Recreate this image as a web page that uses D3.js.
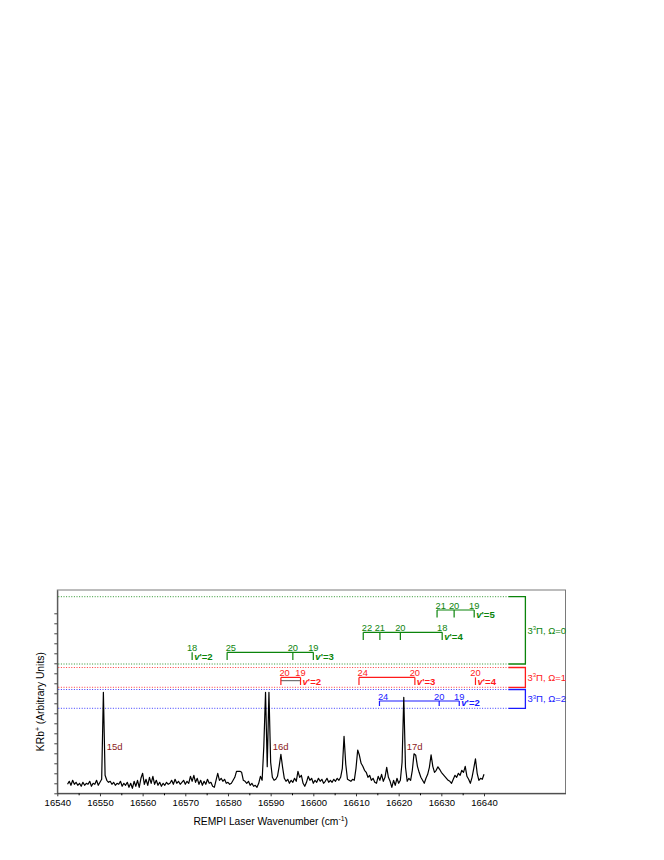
<!DOCTYPE html>
<html><head><meta charset="utf-8">
<script src="https://cdn.jsdelivr.net/npm/d3@7"></script>
<style>body{margin:0;background:#fff} text{font-family:"Liberation Sans",Arial,sans-serif}</style>
</head><body><svg id="c" width="664" height="860"></svg>
<script>
// ---------------- data ----------------
const wavenumbers = [
16542.4,16542.8,16543.2,16543.6,16544.0,16544.4,16544.8,16545.2,16545.6,16546.0,
16546.4,16546.8,16547.2,16547.6,16548.0,16548.4,16548.8,16549.2,16549.6,16550.0,
16550.4,16550.8,16551.2,16551.6,16552.0,16552.4,16552.8,16553.2,16553.6,16554.0,
16554.4,16554.8,16555.2,16555.6,16556.0,16556.4,16556.8,16557.2,16557.6,16558.0,
16558.4,16558.8,16559.2,16559.6,16560.0,16560.4,16560.8,16561.2,16561.6,16562.0,
16562.4,16562.8,16563.2,16563.6,16564.0,16564.4,16564.8,16565.2,16565.6,16566.0,
16566.4,16566.8,16567.2,16567.6,16568.0,16568.4,16568.8,16569.2,16569.6,16570.0,
16570.4,16570.8,16571.2,16571.6,16572.0,16572.4,16572.8,16573.2,16573.6,16574.0,
16574.4,16574.8,16575.2,16575.6,16576.0,16576.4,16576.8,16577.2,16577.6,16578.0,
16578.4,16578.8,16579.2,16579.6,16580.0,16580.4,16580.8,16581.2,16581.6,16582.0,
16582.4,16582.8,16583.2,16583.6,16584.0,16584.4,16584.8,16585.2,16585.6,16586.0,
16586.4,16586.8,16587.2,16587.6,16588.0,16588.4,16588.8,16589.2,16589.6,16590.0,
16590.4,16590.8,16591.2,16591.6,16592.0,16592.4,16592.8,16593.2,16593.6,16594.0,
16594.4,16594.8,16595.2,16595.6,16596.0,16596.4,16596.8,16597.2,16597.6,16598.0,
16598.4,16598.8,16599.2,16599.6,16600.0,16600.4,16600.8,16601.2,16601.6,16602.0,
16602.4,16602.8,16603.2,16603.6,16604.0,16604.4,16604.8,16605.2,16605.6,16606.0,
16606.4,16606.8,16607.2,16607.6,16608.0,16608.4,16608.8,16609.2,16609.6,16610.0,
16610.4,16610.8,16611.2,16611.6,16612.0,16612.4,16612.8,16613.2,16613.6,16614.0,
16614.4,16614.8,16615.2,16615.6,16616.0,16616.4,16616.8,16617.2,16617.6,16618.0,
16618.4,16618.8,16619.2,16619.6,16620.0,16620.4,16620.8,16621.2,16621.6,16622.0,
16622.4,16622.8,16623.2,16623.6,16624.0,16624.4,16624.8,16625.2,16625.6,16626.0,
16626.4,16626.8,16627.2,16627.6,16628.0,16628.4,16628.8,16629.2,16629.6,16630.0,
16630.4,16630.8,16631.2,16631.6,16632.0,16632.4,16632.8,16633.2,16633.6,16634.0,
16634.4,16634.8,16635.2,16635.6,16636.0,16636.4,16636.8,16637.2,16637.6,16638.0,
16638.4,16638.8,16639.2,16639.6,16640.0
];
const intensity = [
0.9,1.2,0.8,1.3,0.9,1.1,0.8,1.0,0.7,1.1,
0.8,1.0,0.9,1.2,0.7,1.0,0.9,1.3,0.8,1.1,
1.4,10.1,1.8,1.3,1.1,1.2,0.9,1.1,0.8,1.0,
0.9,1.2,0.7,1.0,0.8,1.1,0.6,1.0,0.5,1.2,
0.7,1.3,0.6,1.5,2.0,0.9,1.4,0.8,1.6,1.0,
1.7,0.9,1.3,0.8,1.1,0.7,1.0,0.8,1.1,0.9,
1.0,1.3,0.9,1.4,1.0,1.2,0.9,1.1,1.3,0.9,
1.2,1.0,1.7,1.2,1.8,1.1,1.5,0.9,1.3,0.8,
1.2,0.9,1.4,1.0,1.1,0.7,0.6,1.3,2.0,1.3,
1.5,1.2,1.4,1.0,1.1,0.9,1.0,1.3,1.6,2.2,
2.2,2.2,2.1,1.3,1.2,1.0,1.2,0.8,1.0,0.7,
0.8,0.6,1.0,1.7,1.3,4.7,10.1,2.66,10.1,3.1,
1.6,1.3,1.4,1.7,2.7,3.9,2.6,1.5,1.2,1.4,
1.0,1.3,1.1,1.5,1.2,2.2,1.6,1.8,1.0,0.7,
1.1,1.7,1.3,1.5,1.0,1.3,1.1,1.5,1.2,1.4,
1.0,1.2,1.5,1.1,1.3,1.1,1.4,1.2,1.5,1.3,
1.6,2.5,5.7,2.9,1.4,1.3,1.2,1.4,1.3,2.5,
4.33,3.8,3.0,2.7,2.3,2.1,1.6,1.8,1.3,1.5,
1.1,1.0,1.7,1.3,1.9,1.2,1.6,2.6,1.6,1.2,
0.6,1.3,0.8,1.5,1.0,1.3,3.1,9.6,2.6,1.2,
1.5,1.3,2.3,3.95,3.8,2.7,2.1,1.6,1.3,1.0,
1.5,1.9,2.6,3.85,2.7,2.1,2.3,2.65,2.4,2.1,
1.9,1.7,1.5,1.3,1.2,1.0,1.4,1.8,1.6,2.0,
1.8,2.3,2.1,2.7,1.7,1.4,1.0,1.6,2.5,3.45,
2.0,1.3,1.5,1.4,1.9
];
const xTickLabels = [16540,16550,16560,16570,16580,16590,16600,16610,16620,16630,16640];
const xMinorTicks = [16545,16555,16565,16575,16585,16595,16605,16615,16625,16635];
const yTicks = [0,1,2,3,4,5,6,7,8,9,10,11,12,13,14,15,16,17,18];

const peakLabels = ["15d","16d","17d"];
const peakLabelWn = [16551.6,16590.5,16621.9];
const peakLabelLevel = [4.33,4.33,4.33];

const stateOmega = ["0","1","2"];
const stateColors = ["#0b840b","#ff1a1a","#1a1aff"];
const stateTop = [19.66,12.58,10.38];
const stateBottom = [12.93,10.6,8.5];

const progVib   = ["2","3","4","5","2","3","4","2"];
const progState = [0,0,0,0,1,1,1,2];
const progLevel = [14.1,14.1,16.1,18.33,11.59,11.59,11.59,9.23];
const progJ  = [["18"],["25","20","19"],["22","21","20","18"],["21","20","19"],["20","19"],["24","20"],["20"],["24","20","19"]];
const progWn = [[16571.6],[16579.8,16595.2,16600.0],[16611.7,16615.6,16620.4,16630.2],[16629.0,16633.0,16637.7],
                [16592.4,16597.0],[16610.7,16623.8],[16638.0],[16615.5,16629.5,16634.2]];

// ---------------- drawing ----------------
const svg = d3.select("#c");
const L = 57.3, R = 565.5, T = 590, B = 793.3;
const x = d3.scaleLinear().domain([16540, 16659.1]).range([L, R]);
const y = d3.scaleLinear().domain([0, 20.33]).range([B, T]);

// frame
svg.append("rect").attr("x", L).attr("y", T).attr("width", R - L).attr("height", B - T)
  .attr("fill", "none").attr("stroke", "#7a7a7a").attr("stroke-width", 1);

// axes
const gx = svg.append("g").attr("transform", `translate(0,${B})`)
  .call(d3.axisBottom(x).tickValues(xTickLabels).tickSize(3).tickSizeOuter(0).tickPadding(3).tickFormat(d3.format("d")));
svg.append("g").attr("transform", `translate(0,${B})`)
  .call(d3.axisBottom(x).tickValues(xMinorTicks).tickSize(2).tickSizeOuter(0).tickFormat(""))
  .select(".domain").remove();
gx.selectAll("text").attr("font-size", "9.5px").attr("fill", "#000")
  .style("font-family", "'Liberation Sans',Arial,sans-serif");
gx.select(".domain").attr("stroke", "#333");
gx.selectAll(".tick line").attr("stroke", "#333");

const gy = svg.append("g").attr("transform", `translate(${L},0)`)
  .call(d3.axisLeft(y).tickValues(yTicks).tickSize(3).tickSizeOuter(0).tickFormat(""));
gy.select(".domain").attr("stroke", "#444");
gy.selectAll(".tick line").attr("stroke", "#444");

// axis titles
const xt = svg.append("text").attr("x", x((16540 + 16640) / 2)).attr("y", 825)
  .attr("text-anchor", "middle").attr("font-size", "10.3px").attr("fill", "#000");
xt.append("tspan").text("REMPI Laser Wavenumber (cm");
xt.append("tspan").text("-1").attr("font-size", "6.8px").attr("dy", "-4");
xt.append("tspan").text(")").attr("dy", "4");

const yt = svg.append("text").attr("transform", `translate(44,${(T + B) / 2 + 10}) rotate(-90)`)
  .attr("text-anchor", "middle").attr("font-size", "10.3px").attr("fill", "#000");
yt.append("tspan").text("KRb");
yt.append("tspan").text("+").attr("font-size", "6.8px").attr("dy", "-4");
yt.append("tspan").text(" (Arbitrary Units)").attr("dy", "4");

// state bands: dotted lines + brackets + labels
const dotEnd = 16645.7, brX = 16649.7;
stateOmega.forEach((om, i) => {
  const c = stateColors[i];
  [stateTop[i], stateBottom[i]].forEach(v => {
    svg.append("line").attr("x1", x(16540) + 1).attr("x2", x(dotEnd)).attr("y1", y(v)).attr("y2", y(v))
      .attr("stroke", c).attr("stroke-width", 1).attr("stroke-dasharray", "1,1.6").attr("opacity", 0.85);
  });
  svg.append("path")
    .attr("d", `M${x(dotEnd)},${y(stateTop[i])}H${x(brX)}V${y(stateBottom[i])}H${x(dotEnd)}`)
    .attr("fill", "none").attr("stroke", c).attr("stroke-width", 1.3);
  const t = svg.append("text").attr("x", x(brX) + 2).attr("y", (y(stateTop[i]) + y(stateBottom[i])) / 2)
    .attr("dy", "0.35em").attr("font-size", "9.5px").attr("fill", c);
  t.append("tspan").text("3");
  t.append("tspan").text("3").attr("font-size", "6px").attr("dy", "-3.5");
  t.append("tspan").text("\u03A0, \u03A9=" + om).attr("dy", "3.5");
});

// progressions
progVib.forEach((vib, p) => {
  const c = stateColors[progState[p]];
  const ly = y(progLevel[p]);
  const tl = progState[p] === 2 ? 5 : 7.6;
  const wns = progWn[p];
  const g = svg.append("g");
  if (wns.length > 1) {
    g.append("line").attr("x1", x(wns[0])).attr("x2", x(wns[wns.length - 1])).attr("y1", ly).attr("y2", ly)
      .attr("stroke", c).attr("stroke-width", 1.2);
  }
  if (p === 4) {
    g.append("line").attr("x1", x(wns[0])).attr("x2", x(wns[1])).attr("y1", ly + 3.3).attr("y2", ly + 3.3)
      .attr("stroke", "#555").attr("stroke-width", 1);
  }
  wns.forEach((w, j) => {
    g.append("line").attr("x1", x(w)).attr("x2", x(w)).attr("y1", ly).attr("y2", ly + tl)
      .attr("stroke", c).attr("stroke-width", 1.2);
    const first = (j === 0 && wns.length > 1);
    g.append("text").attr("x", first ? x(w) - 1.5 : x(w)).attr("y", ly - 1.5)
      .attr("text-anchor", first ? "start" : "middle").attr("font-size", "9.3px").attr("fill", c)
      .text(progJ[p][j]);
  });
  const lt = g.append("text").attr("x", x(wns[wns.length - 1]) + 2).attr("y", ly + tl)
    .attr("font-size", "9.6px").attr("font-weight", "bold").attr("fill", c);
  lt.append("tspan").text("v").attr("font-style", "italic");
  lt.append("tspan").text("'=" + vib);
});

// spectrum
const spec = wavenumbers.map((w, i) => [w, intensity[i]]);
svg.append("path").datum(spec)
  .attr("d", d3.line().x(d => x(d[0])).y(d => y(d[1])))
  .attr("fill", "none").attr("stroke", "#000").attr("stroke-width", 1.2).attr("stroke-linejoin", "round");

// peak labels
peakLabels.forEach((s, i) => {
  svg.append("text").attr("x", x(peakLabelWn[i])).attr("y", y(peakLabelLevel[i]))
    .attr("font-size", "9.5px").attr("fill", "#8b1a1a").text(s);
});
</script></body></html>
